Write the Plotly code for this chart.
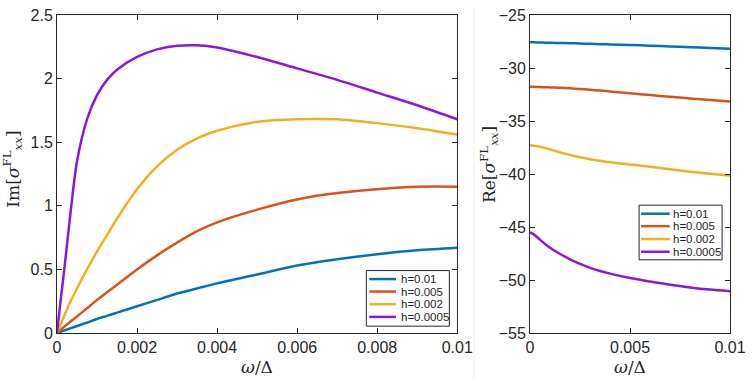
import plotly.graph_objects as go

# omega/Delta grid (shared by all curves)
w = [0, 0.0001, 0.0002, 0.00035, 0.0005, 0.00075, 0.001, 0.00125, 0.0015, 0.002, 0.0025,
     0.003, 0.0035, 0.004, 0.005, 0.006, 0.007, 0.008, 0.009, 0.01]

labels = ["h=0.01", "h=0.005", "h=0.002", "h=0.0005"]
colors = ["#0072BD", "#D95319", "#EDB120", "#8A17DD"]

# Im[sigma] curves
im_h01 = [0, 0.011, 0.022, 0.038, 0.055, 0.082, 0.11, 0.135, 0.16, 0.21, 0.26,
          0.31, 0.35, 0.39, 0.46, 0.53, 0.58, 0.62, 0.65, 0.67]
im_h005 = [0, 0.027, 0.054, 0.093, 0.13, 0.195, 0.26, 0.32, 0.38, 0.5, 0.61,
           0.71, 0.8, 0.87, 0.97, 1.05, 1.1, 1.13, 1.15, 1.15]
im_h002 = [0, 0.075, 0.15, 0.255, 0.35, 0.5, 0.64, 0.77, 0.9, 1.13, 1.31,
           1.44, 1.53, 1.59, 1.66, 1.68, 1.68, 1.65, 1.61, 1.56]
im_h0005 = [0, 0.28, 0.55, 0.98, 1.35, 1.68, 1.87, 1.99, 2.07, 2.17, 2.23,
            2.258, 2.262, 2.245, 2.17, 2.08, 1.99, 1.89, 1.79, 1.68]

# Re[sigma] curves
re_h01 = [-27.58, -27.58, -27.58, -27.59, -27.6, -27.61, -27.62, -27.63, -27.64, -27.66, -27.69,
          -27.72, -27.75, -27.78, -27.83, -27.9, -27.97, -28.04, -28.11, -28.19]
re_h005 = [-31.78, -31.78, -31.78, -31.79, -31.8, -31.81, -31.83, -31.85, -31.87, -31.92, -31.98,
           -32.05, -32.13, -32.21, -32.39, -32.55, -32.71, -32.87, -33.02, -33.16]
re_h002 = [-37.3, -37.31, -37.33, -37.38, -37.43, -37.55, -37.68, -37.82, -37.95, -38.2, -38.42,
           -38.6, -38.76, -38.89, -39.1, -39.32, -39.55, -39.78, -39.97, -40.15]
re_h0005 = [-45.52, -45.6, -45.72, -45.95, -46.2, -46.6, -46.95, -47.27, -47.55, -48.05, -48.48,
            -48.85, -49.15, -49.4, -49.82, -50.15, -50.45, -50.7, -50.9, -51.05]

im_all = [im_h01, im_h005, im_h002, im_h0005]
re_all = [re_h01, re_h005, re_h002, re_h0005]

fig = go.Figure()
for lab, col, ys in zip(labels, colors, im_all):
    fig.add_trace(go.Scatter(x=w, y=ys, mode="lines", name=lab, showlegend=False,
                             line=dict(color=col, width=2.5, shape="spline", smoothing=0.8),
                             xaxis="x", yaxis="y"))
for lab, col, ys in zip(labels, colors, re_all):
    fig.add_trace(go.Scatter(x=w, y=ys, mode="lines", name=lab, showlegend=False,
                             line=dict(color=col, width=2.5, shape="spline", smoothing=0.8),
                             xaxis="x2", yaxis="y2"))

# plot area in pixels: left 57, right 738, top 7, bottom 333
L, R, T, B = 57, 15, 7, 48
PW, PH = 753 - L - R, 381 - T - B


def px(x):
    return (x - L) / PW


def py(y):
    return (381 - B - y) / PH


ink = "#262626"
tickfont = dict(family="Liberation Sans, Arial", size=16, color=ink)
ax = dict(showgrid=False, zeroline=False, showline=True, linecolor=ink, linewidth=1,
          mirror="ticks", ticks="inside", ticklen=5, tickcolor=ink, tickfont=tickfont,
          ticklabeloverflow="allow")

fig.update_layout(
    width=753, height=381, margin=dict(l=L, r=R, t=T, b=B),
    plot_bgcolor="white", paper_bgcolor="white",
    xaxis=dict(ax, domain=[0, px(462)], range=[0, 0.01], tickvals=[0, 0.002, 0.004, 0.006, 0.008, 0.01],
               ticktext=["0", "0.002", "0.004", "0.006", "0.008", "0.01"], anchor="y"),
    yaxis=dict(ax, domain=[0, 1], range=[0, 2.5], tickvals=[0, 0.5, 1, 1.5, 2, 2.5],
               ticktext=["0", "0.5", "1", "1.5", "2", "2.5"], anchor="x"),
    xaxis2=dict(ax, domain=[px(535.7), 1], range=[0, 0.01], tickvals=[0, 0.005, 0.01],
                ticktext=["0", "0.005", "0.01"], anchor="y2"),
    yaxis2=dict(ax, domain=[0, 1], range=[-55, -25], tickvals=[-55, -50, -45, -40, -35, -30, -25],
                anchor="x2"),
)

# legends (MATLAB-style compact boxes)
legfont = dict(family="Liberation Sans, Arial", size=11.5, color=ink)
for box, line_x, text_x, rows in [((370, 454, 269, 326), (373, 400), 403, (277.7, 290.5, 303.5, 316.5)),
                                   ((646, 730, 202, 258), (648, 677), 678, (210.7, 223.5, 236.7, 249.7))]:
    fig.add_shape(type="rect", xref="paper", yref="paper", x0=px(box[0]), x1=px(box[1]),
                  y0=py(box[3]), y1=py(box[2]), line=dict(color=ink, width=1), fillcolor="white",
                  layer="above")
    for lab, col, yy in zip(labels, colors, rows):
        fig.add_shape(type="line", xref="paper", yref="paper", x0=px(line_x[0]), x1=px(line_x[1]),
                      y0=py(yy), y1=py(yy), line=dict(color=col, width=2.5), layer="above")
        fig.add_annotation(text=lab, x=px(text_x), y=py(yy), xref="paper", yref="paper",
                           showarrow=False, font=legfont, xanchor="left", yanchor="middle")

titlefont = dict(family="DejaVu Serif, Liberation Serif, serif", size=17, color=ink)
for xc in (259, 637):
    fig.add_annotation(text="<i>ω</i>/Δ", x=px(xc), y=py(368), xref="paper", yref="paper",
                       showarrow=False, font=titlefont, xanchor="center", yanchor="middle")
fig.add_annotation(text="Im[<i>σ</i><sup>FL</sup><sub><i>xx</i></sub>]", x=px(12), y=py(165),
                   xref="paper", yref="paper", showarrow=False, textangle=-90, font=titlefont,
                   xanchor="center", yanchor="middle")
fig.add_annotation(text="Re[<i>σ</i><sup>FL</sup><sub><i>xx</i></sub>]", x=px(494), y=py(160),
                   xref="paper", yref="paper", showarrow=False, textangle=-90, font=titlefont,
                   xanchor="center", yanchor="middle")

# faint panel separator
fig.add_shape(type="line", xref="paper", yref="paper", x0=px(479), x1=px(479), y0=py(381), y1=py(0),
              line=dict(color="#f0f0f0", width=1))

fig.write_html("out.html", config={"displayModeBar": False},
               post_script="document.body.style.margin='0';")
